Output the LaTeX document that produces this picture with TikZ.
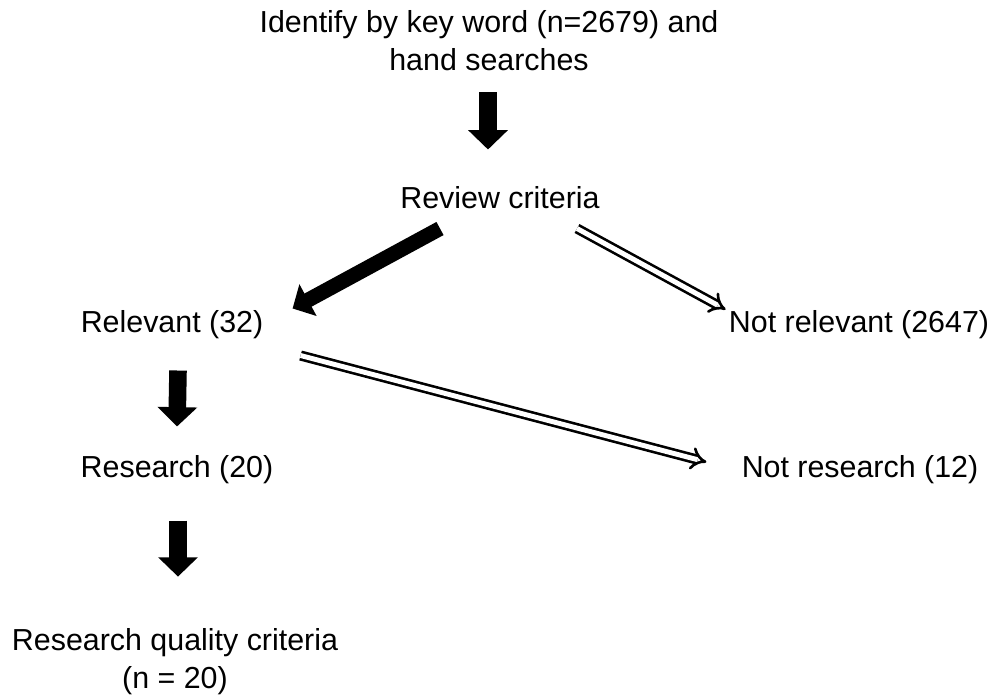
\documentclass[tikz,border=0pt]{standalone}
\usepackage{fontspec}
\setmainfont{Liberation Sans}
\usetikzlibrary{arrows.meta, calc}
\tikzset{
    txt/.style = {inner sep=0pt, align=center, font=\fontsize{17.3}{21.5}\selectfont},
    fatdown/.style = {line width=10pt, -{Triangle[width=22pt,length=11pt]}},
    fatdiag/.style = {line width=8.5pt, -{Triangle[width=20pt,length=10pt]}},
    hollow/.style = {double, double distance=2.8pt, line width=1.5pt, -{Implies}}
}

\begin{document}
\begin{tikzpicture}[x=0.02cm,y=-0.02cm]
\useasboundingbox (0,0) rectangle (1000,697);

% texts
\node[txt] (ident) at (489,41) {Identify by key word (n=2679) and\\hand searches};
\node[txt] (review) at (500,198) {Review criteria};
\node[txt] (relevant) at (172,325) {Relevant (32)};
\node[txt] (notrel) at (859,325) {Not relevant (2647)};
\node[txt] (research) at (177,470) {Research (20)};
\node[txt] (notres) at (860,470) {Not research (12)};
\node[txt] (quality) at (175,662) {Research quality criteria\\(n = 20)};

% arrows
\draw[fatdown] ($(ident.south)+(-1,21)$) -- ($(review.north)+(-12,-37)$);
\draw[fatdiag] ($(review.south west)+(40,19)$) -- ($(relevant.north east)+(29,-2)$);
\draw[hollow] ($(review.south east)+(-23,19)$) -- ($(notrel.north west)+(-3,-1)$);
\draw[hollow] ($(relevant.south east)+(37,16)$) -- ($(notres.west)+(-35,-8)$);
\draw[fatdown] ($(relevant.south)+(6,31)$) -- ($(research.north)+(0,-29)$);
\draw[fatdown] ($(research.south)+(1,36)$) -- ($(quality.north)+(3,-52)$);
\end{tikzpicture}
\end{document}
